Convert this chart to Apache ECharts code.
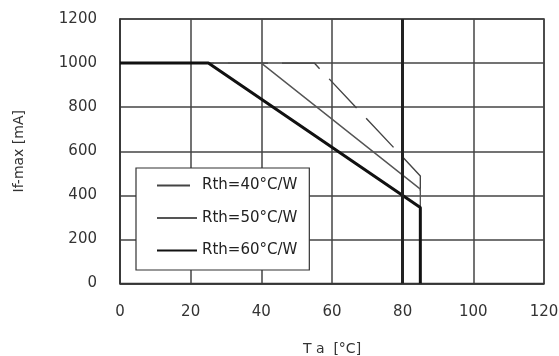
<!DOCTYPE html>
<html>
<head>
<meta charset="utf-8">
<script src="https://cdn.jsdelivr.net/npm/echarts@6/dist/echarts.min.js"></script>
<style>
  html, body { margin: 0; padding: 0; background: #fff; }
  #chart { width: 559px; height: 356px; }
</style>
</head>
<body>
<div id="chart"></div>
<script>
// derating curves, [Ta, If-max]
var seriesNames = ['Rth=40°C/W', 'Rth=50°C/W', 'Rth=60°C/W'];
var rth40 = [[0, 1000], [55, 1000], [85, 488], [85, 0]];
var rth50 = [[0, 1000], [40, 1000], [85, 428], [85, 0]];
var rth60 = [[0, 1000], [25, 1000], [85, 345], [85, 0]];
var xTicks = [0, 20, 40, 60, 80, 100, 120];
var yTicks = [0, 200, 400, 600, 800, 1000, 1200];

var myChart = echarts.init(document.getElementById('chart'));
var font = 'DejaVu Sans';

var option = {
  animation: false,
  textStyle: { fontFamily: font },
  grid: {
    left: 120, right: 15, top: 19, bottom: 72.5,
    outerBoundsMode: 'none',
    show: true, borderColor: '#333', borderWidth: 1.5
  },
  legend: {
    orient: 'vertical',
    left: 136, top: 168,
    padding: [10, 12, 12, 20],
    itemWidth: 40, itemHeight: 14, itemGap: 17.5,
    backgroundColor: '#fff',
    borderColor: '#333', borderWidth: 1.2,
    itemStyle: { opacity: 0 },
    textStyle: { fontFamily: font, fontSize: 15, color: '#222' },
    data: [
      { name: seriesNames[0], lineStyle: { type: [33, 20] } },
      seriesNames[1],
      seriesNames[2]
    ]
  },
  xAxis: {
    type: 'value',
    min: xTicks[0], max: xTicks[xTicks.length - 1], interval: 20,
    name: 'T a  [°C]',
    nameLocation: 'middle', nameGap: 59,
    nameTextStyle: { fontFamily: font, fontSize: 14, color: '#333' },
    axisLine: { show: true, lineStyle: { color: '#333', width: 1.5 } },
    axisTick: { show: false },
    axisLabel: { fontFamily: font, fontSize: 15, color: '#333', margin: 21,
      formatter: function (v) { return String(v); } },
    splitLine: { show: true, lineStyle: { color: '#444', width: 1.5 } }
  },
  yAxis: {
    type: 'value',
    min: yTicks[0], max: yTicks[yTicks.length - 1], interval: 200,
    name: 'If-max [mA]',
    nameLocation: 'middle', nameGap: 94,
    nameTextStyle: { fontFamily: font, fontSize: 14, color: '#333' },
    axisLine: { show: true, lineStyle: { color: '#333', width: 1.5 } },
    axisTick: { show: false },
    axisLabel: { fontFamily: font, fontSize: 15, color: '#333', margin: 23,
      formatter: function (v) { return String(v); } },
    splitLine: { show: true, lineStyle: { color: '#444', width: 1.5 } }
  },
  series: [
    {
      name: seriesNames[0], type: 'line', data: rth40,
      symbol: 'none', z: 3,
      lineStyle: { color: '#444', width: 1.4, type: [40, 14] },
      itemStyle: { color: '#444' }
    },
    {
      name: seriesNames[1], type: 'line', data: rth50,
      symbol: 'none', z: 3,
      lineStyle: { color: '#555', width: 1.4 },
      itemStyle: { color: '#555' }
    },
    {
      name: seriesNames[2], type: 'line', data: rth60,
      symbol: 'none', z: 4,
      lineStyle: { color: '#111', width: 3 },
      itemStyle: { color: '#111' },
      markLine: {
        silent: true, symbol: 'none',
        label: { show: false },
        lineStyle: { color: '#222', width: 3, type: 'solid' },
        data: [{ xAxis: 80 }]
      }
    }
  ]
};

myChart.setOption(option);
</script>
</body>
</html>
